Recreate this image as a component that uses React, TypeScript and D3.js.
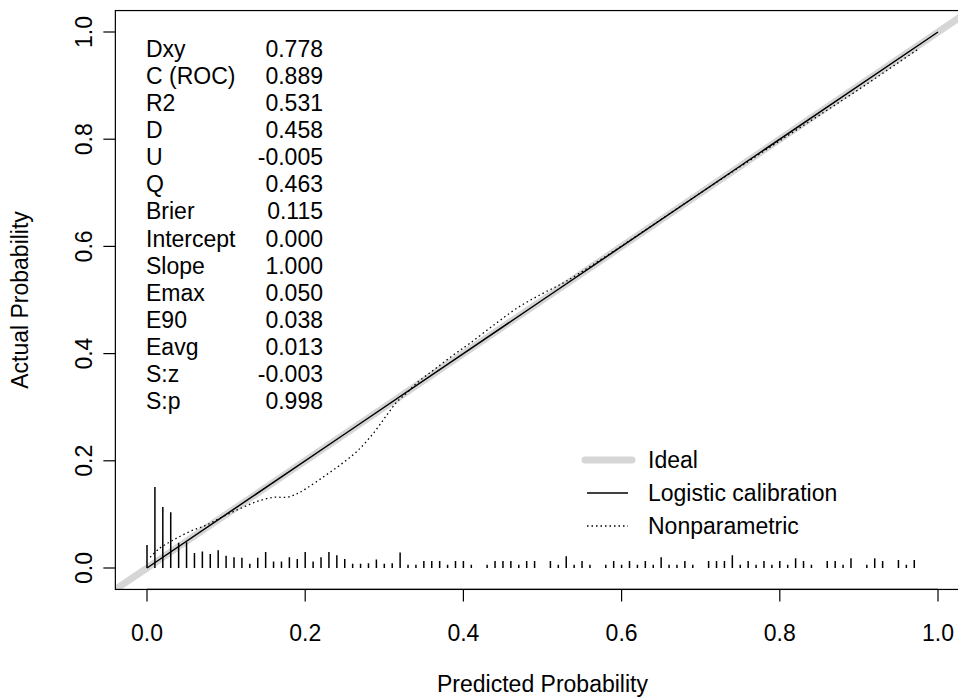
import React from "react";
import * as d3 from "d3";

const W = 958;
const H = 700;

const statLabels = ["Dxy", "C (ROC)", "R2", "D", "U", "Q", "Brier", "Intercept", "Slope", "Emax", "E90", "Eavg", "S:z", "S:p"];
const statValues = ["0.778", "0.889", "0.531", "0.458", "-0.005", "0.463", "0.115", "0.000", "1.000", "0.050", "0.038", "0.013", "-0.003", "0.998"];

const xTicks = [0, 0.2, 0.4, 0.6, 0.8, 1.0];
const yTicks = [0, 0.2, 0.4, 0.6, 0.8, 1.0];

// histogram spikes of predicted probabilities, bins of 0.01 starting at 0
const spikeHeights = [
  0.043, 0.151, 0.114, 0.104, 0.047, 0.048, 0.028, 0.031, 0.026, 0.033,
  0.023, 0.020, 0.019, 0.008, 0.019, 0.030, 0.012, 0.012, 0.020, 0.017,
  0.030, 0.012, 0.020, 0.030, 0.024, 0.017, 0.008, 0.008, 0.009, 0.016,
  0.008, 0.009, 0.029, 0.006, 0.006, 0.013, 0.013, 0.013, 0.006, 0.013,
  0.013, 0.006, 0, 0.006, 0.013, 0.013, 0.013, 0.006, 0.013, 0.013,
  0, 0.013, 0.006, 0.022, 0.006, 0.013, 0.006, 0, 0.006, 0.013,
  0.006, 0.013, 0.006, 0.013, 0.006, 0.020, 0.006, 0.006, 0.013, 0.006,
  0, 0.013, 0.013, 0.013, 0.024, 0.006, 0.013, 0.006, 0.013, 0.006,
  0.013, 0.006, 0.018, 0.013, 0.006, 0, 0.013, 0.013, 0.006, 0.018,
  0, 0.006, 0.018, 0.013, 0, 0.015, 0.006, 0.015,
];
const spikeBinWidth = 0.01;

const logisticX = [0, 0.25, 0.5, 0.75, 1];
const logisticY = [0, 0.25, 0.5, 0.75, 1];

const npX = [0.004, 0.016, 0.033, 0.054, 0.075, 0.096, 0.118, 0.139, 0.160, 0.177, 0.189, 0.202, 0.223, 0.244, 0.265, 0.286, 0.303, 0.316, 0.328, 0.341, 0.362, 0.387, 0.408, 0.44, 0.47, 0.50, 0.53, 0.60, 0.70, 0.80, 0.90, 0.95, 0.975];
const npY = [0.020, 0.037, 0.052, 0.068, 0.080, 0.096, 0.111, 0.124, 0.132, 0.132, 0.138, 0.149, 0.170, 0.192, 0.217, 0.251, 0.285, 0.310, 0.326, 0.345, 0.369, 0.397, 0.419, 0.455, 0.487, 0.512, 0.535, 0.601, 0.700, 0.797, 0.893, 0.943, 0.968];

const legendLabels = ["Ideal", "Logistic calibration", "Nonparametric"];

const FONT = "'Liberation Sans', Arial, Helvetica, sans-serif";

export default function App() {
  React.useEffect(() => {
    document.body.style.margin = "0";
  }, []);

  const x = d3.scaleLinear().domain([0, 1]).range([147, 938]);
  const y = d3.scaleLinear().domain([0, 1]).range([568, 32]);
  const x0 = x(-0.04), x1 = x(1.04);
  const y0 = y(-0.04), y1 = y(1.04);

  const line = d3.line<[number, number]>().x((d) => x(d[0])).y((d) => y(d[1]));
  const npLine = d3
    .line<[number, number]>()
    .x((d) => x(d[0]))
    .y((d) => y(d[1]))
    .curve(d3.curveCatmullRom.alpha(0.5));

  const logisticPts = logisticX.map((v, i) => [v, logisticY[i]] as [number, number]);
  const npPts = npX.map((v, i) => [v, npY[i]] as [number, number]);

  const fs = 23;
  const rowBase = 56.5;
  const rowStep = 27.15;

  const legendY = [460, 493, 526];

  return (
    <svg width={W} height={H} style={{ position: "absolute", left: 0, top: 0, background: "#fff" }} fontFamily={FONT}>
      <defs>
        <clipPath id="plotclip">
          <rect x={x0} y={y1} width={x1 - x0} height={y0 - y1} />
        </clipPath>
      </defs>
      <rect x={0} y={0} width={W} height={H} fill="#fff" />
      <g clipPath="url(#plotclip)">
        <path
          d={line([[-0.1, -0.1], [1.1, 1.1]]) || ""}
          stroke="#d6d6d6"
          strokeWidth={7}
          fill="none"
        />
        {spikeHeights.map((h, i) =>
          h > 0 ? (
            <line
              key={i}
              x1={x(i * spikeBinWidth)}
              x2={x(i * spikeBinWidth)}
              y1={y(0)}
              y2={y(h)}
              stroke="#000"
              strokeWidth={1.5}
            />
          ) : null
        )}
        <path d={line(logisticPts) || ""} stroke="#000" strokeWidth={1.5} fill="none" />
        <path
          d={npLine(npPts) || ""}
          stroke="#000"
          strokeWidth={1.3}
          strokeDasharray="1.5,3"
          fill="none"
        />
      </g>
      {/* box */}
      <rect x={x0} y={y1} width={x1 - x0} height={y0 - y1} fill="none" stroke="#000" strokeWidth={1.2} />
      {/* x axis */}
      <line x1={x(0)} x2={x(1)} y1={y0} y2={y0} stroke="#000" strokeWidth={1.2} />
      {xTicks.map((t) => (
        <g key={"xt" + t}>
          <line x1={x(t)} x2={x(t)} y1={y0} y2={y0 + 12} stroke="#000" strokeWidth={1.2} />
          <text x={x(t)} y={641} fontSize={fs} textAnchor="middle">
            {t.toFixed(1)}
          </text>
        </g>
      ))}
      {/* y axis */}
      {yTicks.map((t) => (
        <g key={"yt" + t}>
          <line x1={x0 - 12} x2={x0} y1={y(t)} y2={y(t)} stroke="#000" strokeWidth={1.2} />
          <text
            transform={`translate(92,${y(t)}) rotate(-90)`}
            fontSize={fs}
            textAnchor="middle"
          >
            {t.toFixed(1)}
          </text>
        </g>
      ))}
      <text x={(x0 + x1) / 2} y={692} fontSize={fs} textAnchor="middle">
        Predicted Probability
      </text>
      <text transform={`translate(28,${(y0 + y1) / 2}) rotate(-90)`} fontSize={fs} textAnchor="middle">
        Actual Probability
      </text>
      {/* stats */}
      {statLabels.map((s, i) => (
        <g key={"st" + i}>
          <text x={146} y={rowBase + i * rowStep} fontSize={fs}>
            {s}
          </text>
          <text x={323} y={rowBase + i * rowStep} fontSize={fs} textAnchor="end">
            {statValues[i]}
          </text>
        </g>
      ))}
      {/* legend */}
      <line x1={585} x2={632} y1={legendY[0]} y2={legendY[0]} stroke="#d6d6d6" strokeWidth={7} strokeLinecap="round" />
      <line x1={587} x2={628} y1={legendY[1]} y2={legendY[1]} stroke="#000" strokeWidth={1.5} />
      <line x1={587} x2={628} y1={legendY[2]} y2={legendY[2]} stroke="#000" strokeWidth={1.3} strokeDasharray="1.5,3" />
      {legendLabels.map((l, i) => (
        <text key={"lg" + i} x={648} y={legendY[i] + 8} fontSize={fs}>
          {l}
        </text>
      ))}
    </svg>
  );
}
